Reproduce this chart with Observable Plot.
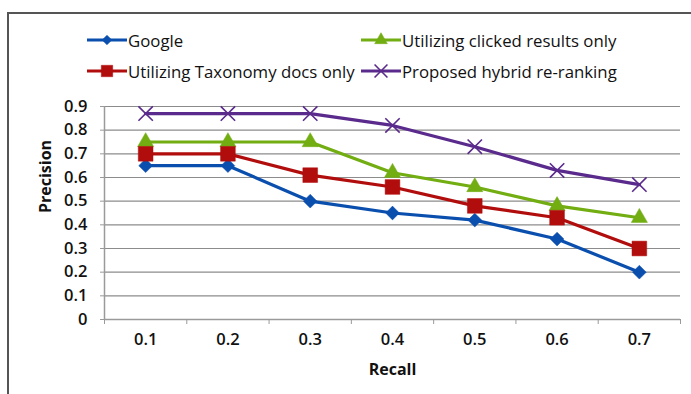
<!DOCTYPE html>
<html>
<head>
<meta charset="utf-8">
<script src="https://cdn.jsdelivr.net/npm/d3@7"></script>
<script src="https://cdn.jsdelivr.net/npm/@observablehq/plot@0.6"></script>
<style>
  html, body { margin: 0; padding: 0; background: #fff; }
  #wrap { position: relative; width: 691px; height: 394px; overflow: hidden; font-family: "Open Sans", sans-serif; }
  #frame { position: absolute; left: 7px; top: 12px; width: 700px; height: 400px; border-left: 2px solid #555; border-top: 2px solid #555; box-sizing: border-box; }
  .leg { position: absolute; display: flex; align-items: center; font-size: 16.8px; color: #111; white-space: nowrap; height: 24px; }
  .leg svg { display: block; margin-right: 1px; }
  #chart { position: absolute; left: 0; top: 92px; }
  #chart g[aria-label="y-axis tick label"] text,
  #chart g[aria-label="x-axis tick label"] text { font-size: 16.5px; font-weight: 600; fill: #111; }
</style>
</head>
<body>
<div id="wrap">
  <div id="frame"></div>
  <div id="legend"></div>
  <div id="chart"></div>
</div>
<script>
const recall = [0.1, 0.2, 0.3, 0.4, 0.5, 0.6, 0.7];
const seriesNames = ["Google", "Utilizing clicked results only", "Utilizing Taxonomy docs only", "Proposed hybrid re-ranking"];
const google   = [0.65, 0.65, 0.50, 0.45, 0.42, 0.34, 0.20];
const clicked  = [0.75, 0.75, 0.75, 0.62, 0.56, 0.48, 0.43];
const taxonomy = [0.70, 0.70, 0.61, 0.56, 0.48, 0.43, 0.30];
const hybrid   = [0.87, 0.87, 0.87, 0.82, 0.73, 0.63, 0.57];
const colors   = ["#0b4fae", "#72ad12", "#b20d0d", "#5a2a8c"];
const symbols  = ["diamond2", "triangle", "square", "times"];
const yTicks   = [0, 0.1, 0.2, 0.3, 0.4, 0.5, 0.6, 0.7, 0.8, 0.9];
const xBounds  = [0.05, 0.15, 0.25, 0.35, 0.45, 0.55, 0.65, 0.75];

const allValues = [google, clicked, taxonomy, hybrid];
const data = [];
allValues.forEach((vals, i) => vals.forEach((v, j) => data.push({series: seriesNames[i], recall: recall[j], precision: v})));

const rOf = [6.2, 6.0, 8.3, 6.6];

const chart = Plot.plot({
  width: 691, height: 302,
  marginTop: 14, marginBottom: 75, marginLeft: 104, marginRight: 11,
  style: {fontFamily: "'Open Sans', sans-serif", fontSize: "16px", color: "#111", background: "transparent"},
  x: {domain: [0.05, 0.75]},
  y: {domain: [0, 0.9]},
  marks: [
    Plot.ruleY(yTicks.slice(1), {stroke: "#8c8c8c", strokeWidth: 1.2, strokeOpacity: 1}),
    Plot.ruleY([0], {stroke: "#9a9a9a", strokeWidth: 1.5}),
    Plot.ruleX([0.05], {y1: 0, y2: 0.9, stroke: "#9a9a9a", strokeWidth: 1.5}),
    Plot.axisY({ticks: yTicks, tickSize: 4, tickPadding: 13, stroke: "#9a9a9a", tickFormat: d => d === 0 ? "0" : d3.format(".1f")(d), label: null}),
    Plot.axisX({ticks: xBounds, tickSize: 5, stroke: "#9a9a9a", tickFormat: () => "", label: null}),
    Plot.axisX({ticks: recall, tickSize: 0, tickPadding: 14, tickFormat: d3.format(".1f"), label: null}),
    Plot.text(["Precision"], {frameAnchor: "left", dx: -59, rotate: -90, fontWeight: "bold", fontSize: 16, fill: "#111", text: d => d}),
    Plot.text(["Recall"], {frameAnchor: "bottom", dy: 55, fontWeight: "bold", fontSize: 16, fill: "#111", text: d => d}),
    ...seriesNames.map((name, i) => Plot.line(data.filter(d => d.series === name), {x: "recall", y: "precision", stroke: colors[i], strokeWidth: 3.2})),
    ...seriesNames.map((name, i) => Plot.dot(data.filter(d => d.series === name), {
      x: "recall", y: "precision",
      symbol: () => symbols[i],
      r: rOf[i],
      fill: symbols[i] === "times" ? "none" : colors[i],
      stroke: colors[i],
      strokeWidth: symbols[i] === "times" ? 1.6 : 0.5
    }))
  ]
});
document.getElementById("chart").appendChild(chart);

// Legend (HTML)
const legPos = [[87, 28], [361, 28], [87, 59], [361, 59]];
const legend = document.getElementById("legend");
seriesNames.forEach((name, i) => {
  const div = document.createElement("div");
  div.className = "leg";
  div.style.left = legPos[i][0] + "px";
  div.style.top = legPos[i][1] + "px";
  const W = 40, H = 24;
  const sz = {diamond2: 60, triangle: 70, square: 130, times: 110}[symbols[i]];
  const typ = {diamond2: d3.symbolDiamond2, triangle: d3.symbolTriangle, square: d3.symbolSquare, times: d3.symbolTimes}[symbols[i]];
  const path = d3.symbol(typ, sz)();
  const isX = symbols[i] === "times";
  div.innerHTML = `<svg width="${W}" height="${H}"><line x1="0" x2="${W}" y1="${H/2}" y2="${H/2}" stroke="${colors[i]}" stroke-width="3.2"/>` +
    `<path transform="translate(${W/2},${H/2})" d="${path}" fill="${isX ? "none" : colors[i]}" stroke="${colors[i]}" stroke-width="${isX ? 1.6 : 0.5}"/></svg><span>${name}</span>`;
  legend.appendChild(div);
});
</script>
</body>
</html>
